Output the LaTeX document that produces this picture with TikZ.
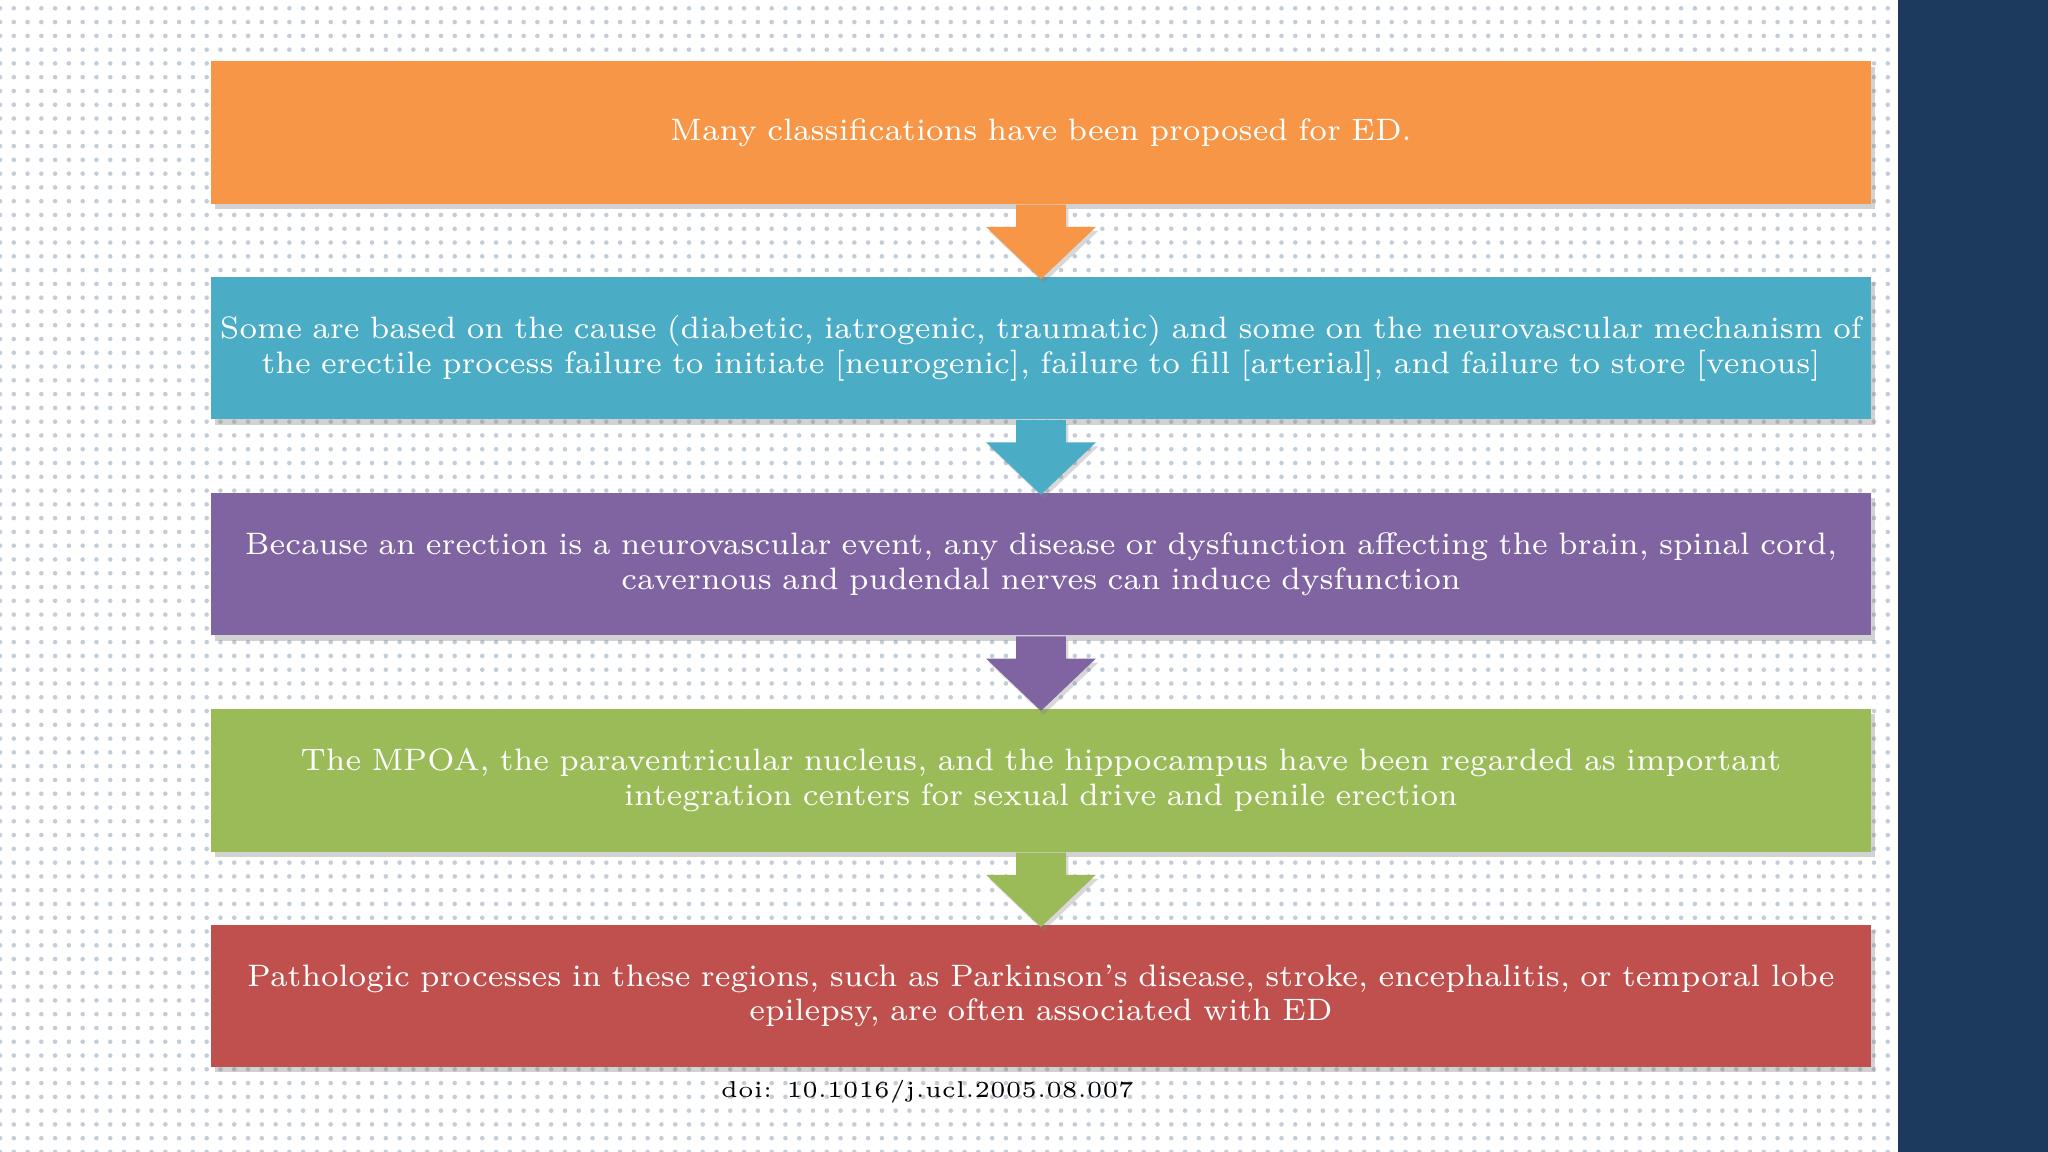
\documentclass[tikz,border=0pt]{standalone}
\usetikzlibrary{patterns,calc,shadows}
\definecolor{cOr}{HTML}{F79646}
\definecolor{cBl}{HTML}{4BACC6}
\definecolor{cPu}{HTML}{8064A2}
\definecolor{cGr}{HTML}{9BBB59}
\definecolor{cRe}{HTML}{C0504D}
\definecolor{band}{HTML}{1B3A5E}
\definecolor{dotc}{HTML}{C3CDD8}
\begin{document}
\begin{tikzpicture}[x=0.01cm,y=-0.01cm,
  box/.style={rectangle,inner sep=0.5mm,minimum width=12.7cm,minimum height=1.09cm,text width=12.6cm,align=center,
    text=white,font=\fontsize{6.75}{7.6}\selectfont,drop shadow={opacity=0.35,shadow xshift=0.03cm,shadow yshift=-0.04cm}},
  doi/.style={font=\fontsize{5}{6}\selectfont,text=black}]
\useasboundingbox (0,0) rectangle (1568,882);
\fill[white] (0,0) rectangle (1568,882);
\fill[pattern=dots,pattern color=dotc] (0,0) rectangle (1453,882);
\fill[band] (1453,0) rectangle (1568,882);
\node[box,fill=cOr] (b1) at (797,101.5) {Many classifications have been proposed for ED.};
\node[box,fill=cBl] (b2) at (797,266.5) {Some are based on the cause (diabetic, iatrogenic, traumatic) and some on the neurovascular mechanism of\\ the erectile process failure to initiate [neurogenic], failure to fill [arterial], and failure to store [venous]};
\node[box,fill=cPu] (b3) at (797,432) {Because an erection is a neurovascular event, any disease or dysfunction affecting the brain, spinal cord,\\ cavernous and pudendal nerves can induce dysfunction};
\node[box,fill=cGr] (b4) at (797,597.5) {The MPOA, the paraventricular nucleus, and the hippocampus have been regarded as important\\ integration centers for sexual drive and penile erection};
\node[box,fill=cRe] (b5) at (797,762.5) {Pathologic processes in these regions, such as Parkinson's disease, stroke, encephalitis, or temporal lobe\\ epilepsy, are often associated with ED};
\foreach \a/\c in {b1/cOr,b2/cBl,b3/cPu,b4/cGr}{
  \fill[\c,drop shadow={opacity=0.3,shadow xshift=0.02cm,shadow yshift=-0.03cm}]
    ($(\a.south)+(-19,0)$) -- ($(\a.south)+(19,0)$) -- ($(\a.south)+(19,17)$) -- ($(\a.south)+(42,17)$)
    -- ($(\a.south)+(0,57)$) -- ($(\a.south)+(-42,17)$) -- ($(\a.south)+(-19,17)$) -- cycle;
}
\node[doi] (d) at (710,836) {doi: 10.1016/j.ucl.2005.08.007};
\end{tikzpicture}
\end{document}
